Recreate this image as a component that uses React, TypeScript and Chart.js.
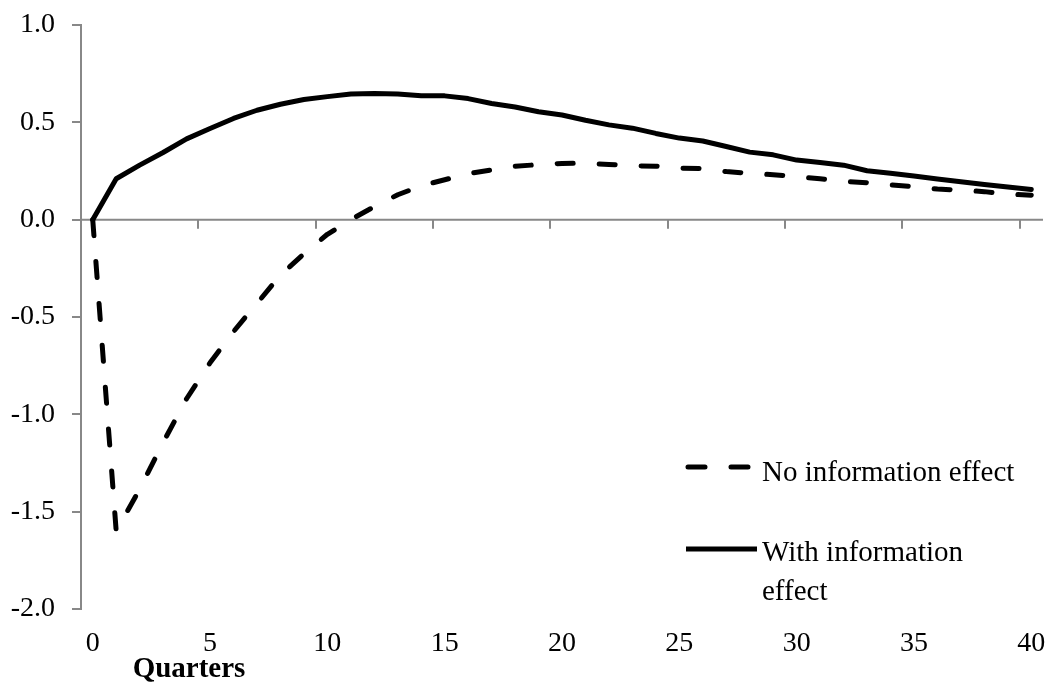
import { useEffect, useRef } from "react";
import { Chart, registerables } from "chart.js";

Chart.register(...registerables);

// ---- data ----
const quarters = [
  0, 1, 2, 3, 4, 5, 6, 7, 8, 9, 10, 11, 12, 13, 14, 15, 16, 17, 18, 19, 20,
  21, 22, 23, 24, 25, 26, 27, 28, 29, 30, 31, 32, 33, 34, 35, 36, 37, 38, 39, 40,
];

const noInformationEffect = [
  0, -1.6, -1.385, -1.145, -0.92, -0.735, -0.575, -0.43, -0.285, -0.175, -0.075,
  0.0, 0.067, 0.128, 0.174, 0.205, 0.236, 0.256, 0.274, 0.283, 0.289,
  0.29, 0.284, 0.277, 0.275, 0.265, 0.262, 0.247, 0.238, 0.231, 0.221,
  0.21, 0.197, 0.19, 0.179, 0.169, 0.157, 0.152, 0.144, 0.131, 0.126,
];

const withInformationEffect = [
  0, 0.21, 0.28, 0.345, 0.415, 0.468, 0.52, 0.562, 0.593, 0.617, 0.632,
  0.645, 0.648, 0.645, 0.636, 0.636, 0.622, 0.597, 0.579, 0.554, 0.538,
  0.511, 0.487, 0.47, 0.443, 0.419, 0.404, 0.376, 0.347, 0.333, 0.306,
  0.294, 0.28, 0.251, 0.238, 0.224, 0.209, 0.195, 0.181, 0.168, 0.155,
];

const xTickValues = [0, 5, 10, 15, 20, 25, 30, 35, 40];
const yTickValues = [-2.0, -1.5, -1.0, -0.5, 0.0, 0.5, 1.0];
const seriesNames = ["No information effect", "With information effect"];
const legendLines = [["No information effect"], ["With information", "effect"]];
const xAxisTitle = "Quarters";

// ---- styles ----
const FONT_FAMILY = '"Liberation Serif", "Times New Roman", serif';
const FONT_SIZE = 28;
const LEGEND_FONT_SIZE = 29;
const AXIS_GREY = "#888888";
const LINE_W = 5;

const zeroAxisPlugin = {
  id: "zeroAxis",
  beforeDatasetsDraw(chart: any) {
    const { ctx, chartArea, scales } = chart;
    const x = scales.x;
    const y = scales.y;
    const y0 = y.getPixelForValue(0);
    ctx.save();
    ctx.strokeStyle = AXIS_GREY;
    ctx.lineWidth = 2;
    ctx.beginPath();
    ctx.moveTo(chartArea.left, y0);
    ctx.lineTo(chartArea.right, y0);
    for (const v of xTickValues) {
      if (v === 0) continue;
      const px = Math.round(x.getPixelForValue(v - 0.5));
      ctx.moveTo(px, y0);
      ctx.lineTo(px, y0 + 9);
    }
    ctx.stroke();
    ctx.restore();
  },
};

const legendPlugin = {
  id: "customLegend",
  afterDraw(chart: any) {
    const { ctx } = chart;
    ctx.save();
    ctx.strokeStyle = "#000";
    ctx.lineWidth = LINE_W;
    ctx.lineCap = "round";
    // dashed sample
    ctx.setLineDash([17, 26]);
    ctx.beginPath();
    ctx.moveTo(688, 467);
    ctx.lineTo(748, 467);
    ctx.stroke();
    // solid sample
    ctx.setLineDash([]);
    ctx.lineCap = "butt";
    ctx.beginPath();
    ctx.moveTo(686, 549);
    ctx.lineTo(757, 549);
    ctx.stroke();
    ctx.fillStyle = "#000";
    ctx.font = `${LEGEND_FONT_SIZE}px ${FONT_FAMILY}`;
    ctx.textBaseline = "alphabetic";
    ctx.textAlign = "left";
    ctx.fillText(legendLines[0][0], 762, 481);
    ctx.fillText(legendLines[1][0], 762, 561);
    ctx.fillText(legendLines[1][1], 762, 600);
    // x axis title
    ctx.font = `bold ${LEGEND_FONT_SIZE}px ${FONT_FAMILY}`;
    ctx.textAlign = "center";
    ctx.fillText(xAxisTitle, 189, 677);
    ctx.restore();
  },
};

export default function App() {
  const canvasRef = useRef<HTMLCanvasElement | null>(null);

  useEffect(() => {
    document.body.style.margin = "0";
    const canvas = canvasRef.current;
    if (!canvas) return;
    const chart = new Chart(canvas, {
      type: "line",
      data: {
        datasets: [
          {
            label: seriesNames[0],
            data: quarters.map((q, i) => ({ x: q, y: noInformationEffect[i] })),
            borderColor: "#000",
            borderWidth: LINE_W,
            borderDash: [16, 26],
            borderCapStyle: "round",
            borderJoinStyle: "round",
            pointRadius: 0,
            tension: 0,
            fill: false,
          },
          {
            label: seriesNames[1],
            data: quarters.map((q, i) => ({ x: q, y: withInformationEffect[i] })),
            borderColor: "#000",
            borderWidth: LINE_W,
            borderJoinStyle: "round",
            borderCapStyle: "round",
            pointRadius: 0,
            tension: 0,
            fill: false,
          },
        ],
      },
      options: {
        animation: false,
        responsive: true,
        maintainAspectRatio: false,
        devicePixelRatio: 1,
        layout: { padding: { top: 25, right: 4, left: 0, bottom: 0 } },
        plugins: {
          legend: { display: false },
          tooltip: { enabled: false },
        },
        scales: {
          x: {
            type: "linear",
            min: -0.5,
            max: 40.5,
            afterBuildTicks: (s: any) => {
              s.ticks = xTickValues.map((v) => ({ value: v }));
            },
            afterFit: (s: any) => {
              s.height = 77;
              s.paddingLeft = 0;
              s.paddingRight = 0;
            },
            grid: { display: false, drawTicks: false },
            border: { display: false },
            ticks: {
              color: "#000",
              font: { family: FONT_FAMILY, size: FONT_SIZE },
              padding: 18,
              maxRotation: 0,
              autoSkip: false,
              callback: (v: any) => String(v),
            },
          },
          y: {
            min: -2,
            max: 1,
            afterBuildTicks: (s: any) => {
              s.ticks = yTickValues.map((v) => ({ value: v }));
            },
            afterFit: (s: any) => {
              s.width = 81;
              s.paddingTop = 0;
              s.paddingBottom = 0;
            },
            grid: {
              drawOnChartArea: false,
              drawTicks: true,
              tickLength: 9,
              color: AXIS_GREY,
              lineWidth: 2,
            },
            border: { display: true, color: AXIS_GREY, width: 2 },
            ticks: {
              color: "#000",
              font: { family: FONT_FAMILY, size: FONT_SIZE },
              padding: 17,
              callback: (v: any) => Number(v).toFixed(1),
            },
          },
        },
      },
      plugins: [zeroAxisPlugin, legendPlugin],
    });
    return () => chart.destroy();
  }, []);

  return (
    <div style={{ width: 1047, height: 686, position: "relative" }}>
      <canvas ref={canvasRef} />
    </div>
  );
}
